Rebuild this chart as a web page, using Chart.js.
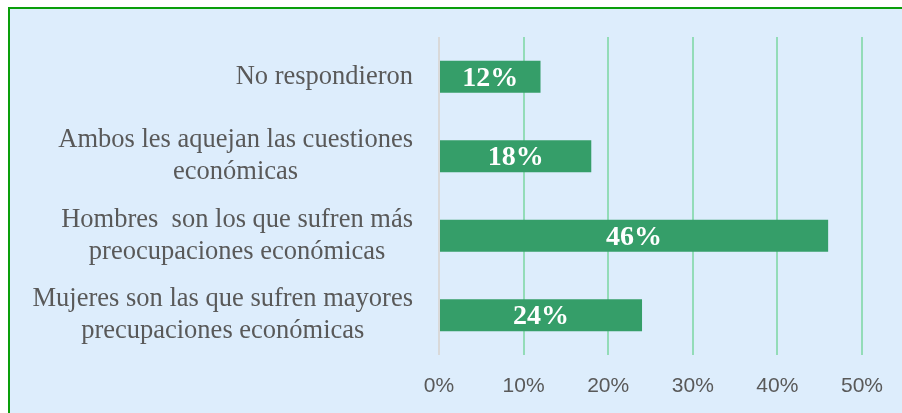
<!DOCTYPE html>
<html lang="es">
<head>
<meta charset="utf-8">
<title>Preocupaciones económicas</title>
<script src="https://cdn.jsdelivr.net/npm/chart.js@4/dist/chart.umd.min.js"></script>
<style>
  html, body { margin: 0; padding: 0; background: #ffffff; overflow: hidden; width: 902px; height: 413px; }
  #frame {
    position: absolute; left: 8px; top: 7px; width: 1000px; height: 500px;
    border: 2px solid #0a9e0a; background: #ddedfc;
  }
  #chart { position: absolute; left: 0; top: 0; }
</style>
</head>
<body>
<div id="frame"></div>
<canvas id="chart" width="902" height="413"></canvas>
<script>
// Categories (one entry per line of each label), from top to bottom
const categories = [
  ['No respondieron'],
  ['Ambos les aquejan las cuestiones', 'económicas'],
  ['Hombres  son los que sufren más', 'preocupaciones económicas'],
  ['Mujeres son las que sufren mayores', 'precupaciones económicas']
];
// Percentage of answers for each category
const values = [12, 18, 46, 24];
// Axis ticks (percent)
const tickValues = [0, 10, 20, 30, 40, 50];

const BAR_COLOR = '#359e69';
const GRID_COLOR = '#93dcb8';
const ZERO_COLOR = '#d9d9d9';
const TEXT_GRAY = '#595959';

// Category labels: each block right-aligned, lines centred inside the block
const categoryLabels = {
  id: 'categoryLabels',
  afterDraw(chart) {
    const ctx = chart.ctx;
    const yScale = chart.scales.y;
    const rightEdge = 413;
    const lineHeight = 32;
    ctx.save();
    ctx.font = '26.5px "Liberation Serif", "Times New Roman", serif';
    ctx.fillStyle = TEXT_GRAY;
    ctx.textAlign = 'center';
    ctx.textBaseline = 'middle';
    categories.forEach((lines, i) => {
      const yc = yScale.getPixelForValue(i);
      const blockWidth = Math.max(...lines.map(l => ctx.measureText(l).width));
      const xc = rightEdge - blockWidth / 2;
      const y0 = yc - (lines.length - 1) * lineHeight / 2;
      lines.forEach((line, j) => ctx.fillText(line, xc, y0 + j * lineHeight));
    });
    ctx.restore();
  }
};

// Value labels centred inside each bar
const valueLabels = {
  id: 'valueLabels',
  afterDatasetsDraw(chart) {
    const ctx = chart.ctx;
    const meta = chart.getDatasetMeta(0);
    ctx.save();
    ctx.font = 'bold 28px "Liberation Serif", "Times New Roman", serif';
    ctx.fillStyle = '#ffffff';
    ctx.textAlign = 'center';
    ctx.textBaseline = 'middle';
    meta.data.forEach((bar, i) => {
      const xc = (bar.x + bar.base) / 2;
      ctx.fillText(values[i] + '%', xc, bar.y + 2);
    });
    ctx.restore();
  }
};

new Chart(document.getElementById('chart'), {
  type: 'bar',
  data: {
    labels: categories.map(l => l.join(' ')),
    datasets: [{
      data: values,
      backgroundColor: BAR_COLOR,
      borderWidth: 0,
      barPercentage: 0.4,
      categoryPercentage: 1.0
    }]
  },
  options: {
    indexAxis: 'y',
    responsive: false,
    animation: false,
    layout: { padding: { left: 439, right: 40, top: 37, bottom: 0 } },
    plugins: {
      legend: { display: false },
      tooltip: { enabled: false }
    },
    scales: {
      x: {
        type: 'linear',
        min: tickValues[0],
        max: tickValues[tickValues.length - 1],
        afterBuildTicks(scale) {
          scale.ticks = tickValues.map(v => ({ value: v }));
        },
        afterFit(scale) { scale.height = 58; },
        border: { display: false },
        grid: {
          drawTicks: false,
          lineWidth: 2,
          color: c => (c.tick && c.tick.value === 0) ? ZERO_COLOR : GRID_COLOR
        },
        ticks: {
          padding: 19,
          color: TEXT_GRAY,
          font: { family: '"Liberation Sans", Arial, sans-serif', size: 21 },
          callback: v => v + '%'
        }
      },
      y: {
        type: 'category',
        display: false
      }
    }
  },
  plugins: [categoryLabels, valueLabels]
});
</script>
</body>
</html>
